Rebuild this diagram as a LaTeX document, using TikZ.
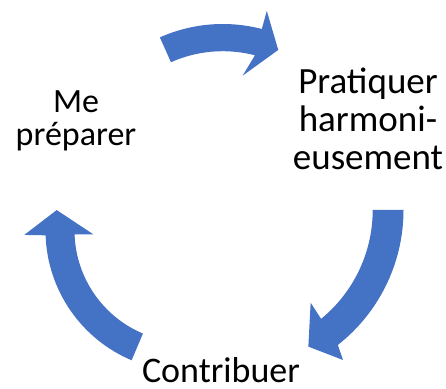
\documentclass[tikz,border=0pt]{standalone}
\usepackage{fontspec}
\setmainfont{Carlito}
\definecolor{cycleblue}{RGB}{68,114,196}
\tikzset{cyclearrow/.style={fill=cycleblue},
  steptext/.style={inner sep=0pt, align=center, anchor=base}}

\begin{document}
\begin{tikzpicture}[x=1pt,y=1pt]
  \useasboundingbox (0,0) rectangle (446,388);
  \node[steptext,font=\fontsize{34}{33.3}\selectfont] (prep) at (76,242.3) {Me\\préparer};
  \node[steptext,font=\fontsize{37}{38.3}\selectfont] (prat) at (368,218) {Pratiquer\\harmoni-\\eusement};
  \node[steptext,font=\fontsize{36}{40}\selectfont] (contrib) at (221,5.5) {Contribuer};

  % top arrow
  \fill[cyclearrow,shift={(222.8,209.3)}] (114:154.7) arc[start angle=114,end angle=75.4,radius=154.7]
    -- (75.3:173.4) -- (66.7:140.2) -- (79.1:104.9) -- (75.4:127.5) arc[start angle=75.4,end angle=114,radius=127.5] -- cycle;
  % right arrow
  \fill[cyclearrow,shift={(232,178)}] (0:171.5) arc[start angle=0,end angle=-51.9,radius=171.5]
    -- (-53.5:186.6) -- (-60.8:156.5) -- (-49.7:121.6) -- (-50.7:140.7) arc[start angle=-50.7,end angle=0,radius=140.7] -- cycle;
  % left arrow
  \fill[cyclearrow,shift={(186.5,157.6)}] (247.1:141) arc[start angle=247.1,end angle=182,radius=141]
    -- (181.6:162.3) -- (171.1:131.4) -- (182.4:93.3) -- (182:112) arc[start angle=182,end angle=247.1,radius=112] -- cycle;
\end{tikzpicture}
\end{document}
